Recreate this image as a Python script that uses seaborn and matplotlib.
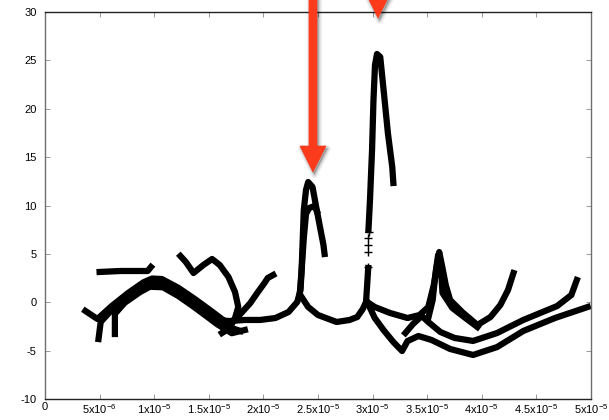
import matplotlib
matplotlib.use("Agg")
import matplotlib.pyplot as plt
from matplotlib.patches import Polygon
from matplotlib.transforms import IdentityTransform
import pandas as pd
import seaborn as sns

# Frequency values are written in units of 1e-5
X_UNIT = 1e-5

# --- branch data (x in 1e-5, y) ---
flat_x = [0.50, 0.69, 0.94, 0.97]
flat_y = [3.13, 3.23, 3.23, 3.64]

band1_x = [0.37, 0.48, 0.61, 0.76, 0.90, 0.98, 1.07, 1.22, 1.37, 1.51, 1.64, 1.71]
band1_y = [-0.90, -1.73, -0.40, 0.95, 2.05, 2.45, 2.40, 1.50, 0.35, -0.80, -1.90, -2.75]

band2_x = [0.49, 0.51, 0.61, 0.78, 0.92, 1.01, 1.13, 1.28, 1.42, 1.56, 1.68, 1.79]
band2_y = [-3.80, -2.04, -0.80, 0.65, 1.78, 2.20, 1.78, 0.65, -0.39, -1.63, -2.56, -2.97]

band3_x = [0.64, 0.64, 0.73, 0.87, 0.96, 1.08, 1.22, 1.36, 1.48, 1.58, 1.71, 1.83]
band3_y = [-3.28, -1.20, -0.05, 1.05, 1.60, 1.55, 0.65, -0.45, -1.45, -2.30, -3.20, -2.87]

hump_x = [1.24, 1.29, 1.36, 1.45, 1.53, 1.60, 1.68, 1.74, 1.77, 1.74, 1.69, 1.62]
hump_y = [4.78, 4.16, 3.02, 3.85, 4.47, 3.85, 2.61, 1.06, -0.49, -1.63, -2.66, -3.18]

short_x = [1.65, 1.79, 1.88, 1.95, 2.01, 2.04, 2.09]
short_y = [-2.87, -1.21, -0.08, 1.06, 1.99, 2.51, 2.82]

peak1_x = [1.56, 1.69, 1.83, 1.97, 2.11, 2.23, 2.31, 2.34, 2.35, 2.36, 2.37,
           2.39, 2.41, 2.45, 2.48, 2.52, 2.55, 2.56]
peak1_y = [-1.83, -1.94, -1.83, -1.83, -1.63, -1.01, 0.03, 1.27, 3.33, 6.43, 9.53,
           11.60, 12.43, 11.91, 10.05, 7.67, 5.92, 4.99]

inner1_x = [2.33, 2.35, 2.37, 2.39, 2.42, 2.47, 2.49]
inner1_y = [0.44, 3.33, 6.64, 9.12, 9.75, 9.95, 9.40]

link_x = [2.35, 2.41, 2.50, 2.67, 2.79, 2.86, 2.91, 2.94, 2.95, 2.96]
link_y = [0.54, -0.49, -1.32, -2.04, -1.83, -1.52, -0.70, 0.03, 1.78, 3.54]

peak2_x = [2.962, 2.976, 2.995, 3.008, 3.022, 3.040, 3.07, 3.11, 3.14, 3.18, 3.19]
peak2_y = [7.47, 10.57, 15.74, 20.90, 24.52, 25.66, 25.35, 20.90, 17.49, 13.98, 12.33]

# sparse samples on the steep rise of the second peak
rise_x = [2.958, 2.960, 2.961, 2.962, 2.963]
rise_y = [3.64, 5.19, 5.92, 6.64, 7.26]

upper_x = [2.95, 3.02, 3.16, 3.32, 3.43, 3.51, 3.56, 3.59, 3.61, 3.64, 3.67, 3.71,
           3.82, 3.96, 4.08, 4.17, 4.24, 4.29]
upper_y = [0.03, -0.49, -1.11, -1.63, -1.32, -0.49, 1.78, 3.85, 5.19, 3.54, 1.78, 0.23,
           -1.01, -2.35, -1.52, -0.28, 1.27, 3.02]

lower_x = [2.95, 3.02, 3.10, 3.19, 3.27, 3.32, 3.42, 3.54, 3.71, 3.92, 4.14, 4.38, 4.67, 4.97]
lower_y = [0.03, -1.63, -2.87, -4.11, -5.04, -4.01, -3.49, -3.90, -4.83, -5.45, -4.63,
           -2.97, -1.63, -0.49]

middle_x = [3.30, 3.37, 3.45, 3.51, 3.62, 3.75, 3.92, 4.14, 4.38, 4.69, 4.82, 4.87]
middle_y = [-3.18, -2.25, -1.42, -2.04, -3.07, -3.69, -4.00, -3.18, -1.83, -0.39, 0.75, 2.30]

spike_x = [3.51, 3.55, 3.58, 3.60, 3.63, 3.64, 3.73, 3.85, 3.96]
spike_y = [-1.63, 0.23, 3.33, 4.88, 2.82, 0.96, -0.59, -1.63, -2.56]

# arrow tips marking the two resonances
arrow_tip_x = [2.454, 3.050]
arrow_tip_y = [13.46, 29.38]

x_ticks = [0, 0.5, 1.0, 1.5, 2.0, 2.5, 3.0, 3.5, 4.0, 4.5, 5.0]
x_tick_labels = ["0", r"5x10$^{\mathregular{-6}}$", r"1x10$^{\mathregular{-5}}$",
                 r"1.5x10$^{\mathregular{-5}}$", r"2x10$^{\mathregular{-5}}$",
                 r"2.5x10$^{\mathregular{-5}}$", r"3x10$^{\mathregular{-5}}$",
                 r"3.5x10$^{\mathregular{-5}}$", r"4x10$^{\mathregular{-5}}$",
                 r"4.5x10$^{\mathregular{-5}}$", r"5x10$^{\mathregular{-5}}$"]
y_ticks = [-10, -5, 0, 5, 10, 15, 20, 25, 30]

branches = {
    "flat": (flat_x, flat_y), "band1": (band1_x, band1_y),
    "band2": (band2_x, band2_y), "band3": (band3_x, band3_y),
    "hump": (hump_x, hump_y), "short": (short_x, short_y),
    "peak1": (peak1_x, peak1_y), "inner1": (inner1_x, inner1_y),
    "link": (link_x, link_y), "peak2": (peak2_x, peak2_y),
    "upper": (upper_x, upper_y), "lower": (lower_x, lower_y),
    "middle": (middle_x, middle_y), "spike": (spike_x, spike_y),
}

rows = []
for name, (xs, ys) in branches.items():
    for i, (xv, yv) in enumerate(zip(xs, ys)):
        rows.append({"branch": name, "order": i, "x": xv * X_UNIT, "y": yv})
df = pd.DataFrame(rows)

sns.set_theme(style="ticks")
plt.rcParams["font.family"] = ["Liberation Sans", "DejaVu Sans"]
plt.rcParams["mathtext.fontset"] = "custom"
plt.rcParams["mathtext.rm"] = "Liberation Sans"

fig = plt.figure(figsize=(6.09, 4.2), dpi=100)
ax = fig.add_axes([45 / 609, 1 - 399 / 420, 546 / 609, 387 / 420])

sns.lineplot(data=df, x="x", y="y", units="branch", estimator=None, sort=False,
             color="black", linewidth=4.5, ax=ax, legend=False,
             solid_joinstyle="round")
for line in ax.get_lines():
    line.set_solid_capstyle("projecting")

# steep rise drawn as individual cross samples
rise_df = pd.DataFrame({"x": [v * X_UNIT for v in rise_x], "y": rise_y})
sns.scatterplot(data=rise_df, x="x", y="y", marker="+", s=30, color="black",
                linewidth=1.0, ax=ax, legend=False)

ax.set_xlim(0, 5e-5)
ax.set_ylim(-10, 30)
ax.set_xticks([t * X_UNIT for t in x_ticks])
ax.set_xticklabels(x_tick_labels)
ax.set_yticks(y_ticks)
ax.set_yticklabels([str(t) for t in y_ticks])
ax.set_xlabel("")
ax.set_ylabel("")
ax.tick_params(axis="both", direction="in", length=3.5, width=0.6, color="#888888",
               labelsize=8, labelcolor="black", top=True, right=True)
ax.tick_params(axis="x", pad=2.5)
ax.tick_params(axis="y", pad=6)
for side, col in [("left", "#6e6e6e"), ("right", "#6e6e6e"),
                  ("top", "#222222"), ("bottom", "#222222")]:
    ax.spines[side].set_color(col)
    ax.spines[side].set_linewidth(1.0)
    ax.spines[side].set_visible(True)

# red arrows with a soft shadow, built in pixel units from their tips
fig.canvas.draw()
red = "#fc3a1c"
head_len, head_half, shaft_half = 26, 13, 4
top_px = fig.bbox.height + 20
for tx_d, ty_d in zip(arrow_tip_x, arrow_tip_y):
    tx, ty = ax.transData.transform((tx_d * X_UNIT, ty_d))
    verts = [(tx, ty), (tx + head_half, ty + head_len), (tx + shaft_half, ty + head_len),
             (tx + shaft_half, top_px), (tx - shaft_half, top_px),
             (tx - shaft_half, ty + head_len), (tx - head_half, ty + head_len)]
    for k, a in zip([5, 3, 1.5], [0.06, 0.08, 0.10]):
        sh = [(vx + 1.5, vy - 2.5) for vx, vy in verts]
        fig.add_artist(Polygon(sh, closed=True, facecolor="#000000", edgecolor="#000000",
                               alpha=a, linewidth=k, joinstyle="round",
                               transform=IdentityTransform()))
    fig.add_artist(Polygon(verts, closed=True, facecolor=red, edgecolor=red,
                           linewidth=0.5, transform=IdentityTransform()))

fig.savefig("out.png", dpi=100)
